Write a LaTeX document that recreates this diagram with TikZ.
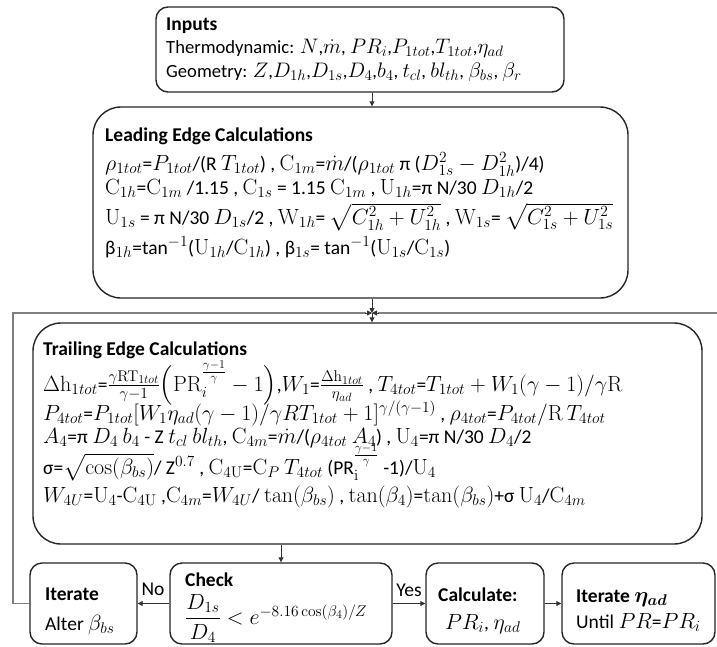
\RequirePackage{fix-cm}
\documentclass[tikz,border=0pt]{standalone}
\usepackage{amsmath,amssymb}
\usepackage[no-math]{fontspec}
\setmainfont{Carlito}
\DeclareMathSizes{19.5}{22}{15.5}{12}
\DeclareMathSizes{18.6}{21}{15}{11.5}
\usetikzlibrary{arrows.meta}
\begin{document}
\begin{tikzpicture}[x=1pt,y=-1pt,
 box/.style={draw=black!85,line width=1.4pt,inner sep=0pt},
 txt/.style={anchor=base west,inner sep=0pt,font=\fontsize{19.5}{22}\selectfont},
 txts/.style={anchor=base west,inner sep=0pt,font=\fontsize{18.6}{21}\selectfont},
 lbl/.style={anchor=base,inner sep=0pt,font=\fontsize{19.5}{22}\selectfont},
 arr/.style={draw=black!80,line width=0.9pt,-{Triangle[length=5pt,width=5pt]}},
 loopline/.style={draw=black!50,line width=1.4pt}]
\useasboundingbox (0,0) rectangle (717,646);
\fill[white] (0,0) rectangle (717,646);
% boxes
\node[box,rounded corners=12pt,minimum width=408pt,minimum height=85pt] (inputs) at (360,49.5) {};
\node[box,rounded corners=28pt,minimum width=535pt,minimum height=191pt] (leading) at (360.5,202.5) {};
\node[box,rounded corners=28pt,minimum width=669pt,minimum height=221pt] (trailing) at (367.5,433.5) {};
\node[box,rounded corners=12pt,minimum width=107pt,minimum height=81pt] (iter) at (83.5,603.5) {};
\node[box,rounded corners=12pt,minimum width=222pt,minimum height=81pt] (check) at (281,603.5) {};
\node[box,rounded corners=12pt,minimum width=118pt,minimum height=81pt] (calc) at (485,603.5) {};
\node[box,rounded corners=12pt,minimum width=153pt,minimum height=81pt] (itereta) at (638.5,603.5) {};
% inputs text
\node[txt] (in1) at (166,30) {\textbf{Inputs}};
\node[txts] (in2) at (166,53) {Thermodynamic: $N$,$\dot m$, $PR_i$,$P_{1tot}$,$T_{1tot}$,$\eta_{ad}$};
\node[txts] (in3) at (166,77) {Geometry: $Z$,$D_{1h}$,$D_{1s}$,$D_4$,$b_4$, $t_{cl}$, $bl_{th}$, $\beta_{bs}$, $\beta_r$};
% leading text
\node[txt] (le1) at (105,141) {\textbf{Leading Edge Calculations}};
\node[txt] (le2) at (105,170) {$\rho_{1tot}$=$P_{1tot}$/(R $T_{1tot}$) , $\mathrm{C}_{1m}$=$\dot m$/($\rho_{1tot}$ π ($D_{1s}^2-D_{1h}^2$)/4)};
\node[txt] (le3) at (105,194) {$\mathrm{C}_{1h}$=$\mathrm{C}_{1m}$ /1.15 , $\mathrm{C}_{1s}$ = 1.15 $\mathrm{C}_{1m}$ , $\mathrm{U}_{1h}$=π N/30 $D_{1h}$/2};
\node[txt] (le4) at (105,224) {$\mathrm{U}_{1s}$ = π N/30 $D_{1s}$/2 , $\mathrm{W}_{1h}$= $\sqrt{C_{1h}^2+U_{1h}^2}$ , $\mathrm{W}_{1s}$= $\sqrt{C_{1s}^2+U_{1s}^2}$};
\node[txt] (le5) at (105,254) {β$_{1h}$=tan$^{-1}$($\mathrm{U}_{1h}$/$\mathrm{C}_{1h}$) , β$_{1s}$= tan$^{-1}$($\mathrm{U}_{1s}$/$\mathrm{C}_{1s}$)};
% trailing text
\node[txt] (tr1) at (43,355) {\textbf{Trailing Edge Calculations}};
\node[txt] (tr2) at (43,391) {$\Delta\mathrm{h}_{1tot}$=$\frac{\gamma\mathrm{RT}_{1tot}}{\gamma-1}\Bigl(\mathrm{PR}_i^{\frac{\gamma-1}{\gamma}}-1\Bigr)$,$W_1$=$\frac{\Delta\mathrm{h}_{1tot}}{\eta_{ad}}$ , $T_{4tot}$=$T_{1tot}+W_1(\gamma-1)/\gamma\mathrm{R}$};
\node[txt] (tr3) at (43,420) {$P_{4tot}$=$P_{1tot}[W_1\eta_{ad}(\gamma-1)/\gamma RT_{1tot}+1]^{\gamma/(\gamma-1)}$ , $\rho_{4tot}$=$P_{4tot}/\mathrm{R}\,T_{4tot}$};
\node[txt] (tr4) at (43,443) {$A_4$=π $D_4$ $b_4$ - Z $t_{cl}$ $bl_{th}$, $\mathrm{C}_{4m}$=$\dot m$/($\rho_{4tot}$ $A_4$) , $\mathrm{U}_4$=π N/30 $D_4$/2};
\node[txt] (tr5) at (43,474) {σ=$\sqrt{\cos(\beta_{bs})}$/ Z$^{0.7}$ , $\mathrm{C}_{4\mathrm{U}}$=$\mathrm{C}_P$ $T_{4tot}$ (PR$_\mathrm{i}^{\frac{\gamma-1}{\gamma}}$ -1)/$\mathrm{U}_4$};
\node[txt] (tr6) at (43,502) {$W_{4U}$=$\mathrm{U}_4$-$\mathrm{C}_{4\mathrm{U}}$ ,$\mathrm{C}_{4m}$=$W_{4U}$/ $\tan(\beta_{bs})$ , $\tan(\beta_4)$=$\tan(\beta_{bs})$+σ $\mathrm{U}_4$/$\mathrm{C}_{4m}$};
% bottom texts
\node[txt] (it1) at (45,600) {\textbf{Iterate}};
\node[txt] (it2) at (45,630) {Alter $\beta_{bs}$};
\node[txt] (ch1) at (185,586) {\textbf{Check}};
\node[txt] (ch2) at (185,624) {$\dfrac{D_{1s}}{D_4}<e^{-8.16\cos(\beta_4)/Z}$};
\node[txt] (ca1) at (438,601) {\textbf{Calculate:}};
\node[txt] (ca2) at (445,629) {$PR_i$, $\eta_{ad}$};
\node[txt] (ie1) at (576,602) {\textbf{Iterate $\boldsymbol{\eta_{ad}}$}};
\node[txt] (ie2) at (576,628) {Until $PR$=$PR_i$};
\node[lbl] (no) at (153,595) {No};
\node[lbl] (yes) at (409,596) {Yes};
% connectors
\coordinate (j) at (372,313);
\coordinate (lp) at (13,313);
\coordinate (rp) at (717,313);
\draw[arr] (inputs.south -| j) -- (leading.north -| j);
\draw[arr] (leading.south -| j) -- (j);
\draw[arr] (j) -- (trailing.north -| j);
\draw[arr] (check.north |- trailing.south) -- (check.north);
\draw[arr] (check.west) -- (iter.east);
\draw[arr] (check.east) -- (calc.west);
\draw[arr] (calc.east) -- (itereta.west);
\draw[loopline] (iter.west) -- (iter.west -| lp) -- (lp) -- ([xshift=-6pt]j);
\draw[arr] ([xshift=-7pt]j) -- (j);
\draw[loopline] (rp) -- ([xshift=6pt]j);
\draw[arr] ([xshift=7pt]j) -- (j);
\end{tikzpicture}
\end{document}
